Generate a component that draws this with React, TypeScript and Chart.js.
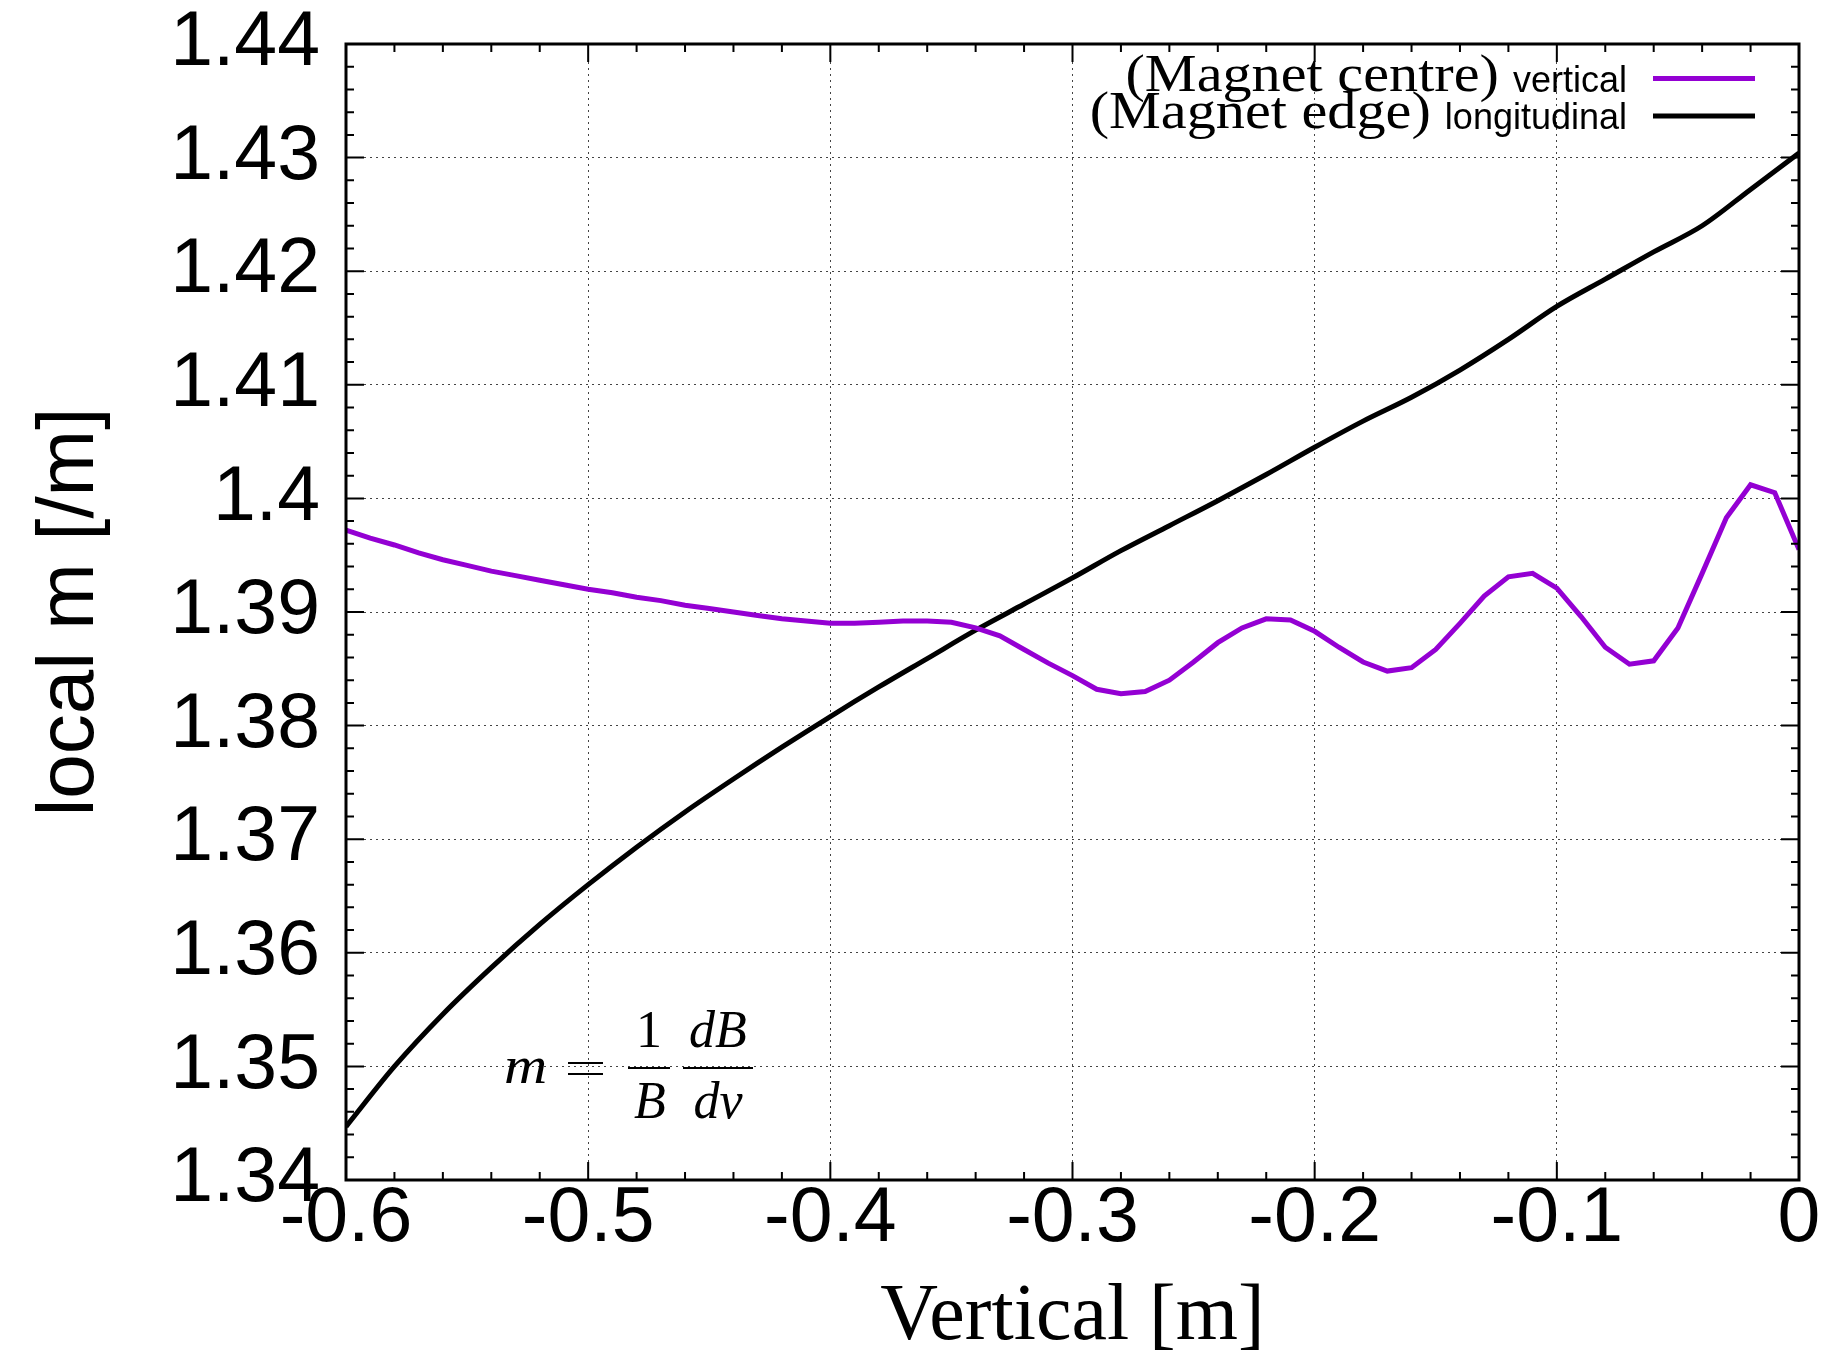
import React, { useEffect, useRef } from "react";
import Chart from "chart.js/auto";

// ---- data ----
const CENTRE_X = [
  -0.6, -0.59, -0.58, -0.57, -0.56, -0.55, -0.54, -0.53, -0.52, -0.51,
  -0.5, -0.49, -0.48, -0.47, -0.46, -0.45, -0.44, -0.43, -0.42, -0.41,
  -0.4, -0.39, -0.38, -0.37, -0.36, -0.35, -0.34, -0.33, -0.32, -0.31,
  -0.3, -0.29, -0.28, -0.27, -0.26, -0.25, -0.24, -0.23, -0.22, -0.21,
  -0.2, -0.19, -0.18, -0.17, -0.16, -0.15, -0.14, -0.13, -0.12, -0.11,
  -0.1, -0.09, -0.08, -0.07, -0.06, -0.05, -0.04, -0.03, -0.02, -0.01, 0.0,
];
const CENTRE_M = [
  1.3972, 1.3965, 1.3959, 1.3952, 1.3946, 1.3941, 1.3936, 1.3932, 1.3928, 1.3924,
  1.392, 1.3917, 1.3913, 1.391, 1.3906, 1.3903, 1.39, 1.3897, 1.3894, 1.3892,
  1.389, 1.389, 1.3891, 1.3892, 1.3892, 1.3891, 1.3886, 1.3879, 1.3867, 1.3855,
  1.3844, 1.3832, 1.3828, 1.383, 1.384, 1.3856, 1.3873, 1.3886, 1.3894, 1.3893,
  1.3883, 1.3869, 1.3856, 1.3848, 1.3851, 1.3867, 1.389, 1.3914, 1.3931, 1.3934,
  1.3921, 1.3896, 1.3869, 1.3854, 1.3857, 1.3886, 1.3934, 1.3983, 1.4012, 1.4005, 1.3955,
];
const EDGE_X = [
  -0.6, -0.58, -0.56, -0.54, -0.52, -0.5, -0.48, -0.46, -0.44, -0.42,
  -0.4, -0.38, -0.36, -0.34, -0.32, -0.3, -0.28, -0.26, -0.24, -0.22,
  -0.2, -0.18, -0.16, -0.14, -0.12, -0.1, -0.08, -0.06, -0.04, -0.02, 0.0,
];
const EDGE_M = [
  1.3447, 1.35, 1.3546, 1.3587, 1.3625, 1.366, 1.3693, 1.3724, 1.3753, 1.3781,
  1.3808, 1.3834, 1.3859, 1.3884, 1.3907, 1.393, 1.3954, 1.3976, 1.3998, 1.4021,
  1.4045, 1.4068, 1.4089, 1.4113, 1.414, 1.4169, 1.4193, 1.4217, 1.424, 1.4272, 1.4304,
];
const X_TICKS = [-0.6, -0.5, -0.4, -0.3, -0.2, -0.1, 0];
const Y_TICKS = [1.34, 1.35, 1.36, 1.37, 1.38, 1.39, 1.4, 1.41, 1.42, 1.43, 1.44];

const SERIES_SERIF = ["(Magnet centre)", "(Magnet edge)"];
const SERIES_SANS = ["vertical", "longitudinal"];
const SERIES_COLORS = ["#9400d3", "#000000"];

const W = 1838;
const H = 1358;

const frameAndTicks = {
  id: "frameAndTicks",
  afterDatasetsDraw(chart: any) {
    const { ctx, chartArea: a, scales } = chart;
    const x = scales.x;
    const y = scales.y;
    ctx.save();
    ctx.strokeStyle = "#000";
    ctx.lineWidth = 2;
    ctx.beginPath();
    for (let i = 0; i <= 30; i++) {
      const v = -0.6 + i * 0.02;
      const px = x.getPixelForValue(v);
      const len = i % 5 === 0 ? 18 : 8;
      ctx.moveTo(px, a.bottom);
      ctx.lineTo(px, a.bottom - len);
      ctx.moveTo(px, a.top);
      ctx.lineTo(px, a.top + len);
    }
    for (let i = 0; i <= 50; i++) {
      const v = 1.34 + i * 0.002;
      const py = y.getPixelForValue(v);
      const len = i % 5 === 0 ? 18 : 8;
      ctx.moveTo(a.left, py);
      ctx.lineTo(a.left + len, py);
      ctx.moveTo(a.right, py);
      ctx.lineTo(a.right - len, py);
    }
    ctx.stroke();
    ctx.lineWidth = 3;
    ctx.strokeRect(a.left, a.top, a.right - a.left, a.bottom - a.top);
    ctx.restore();
  },
  afterDraw(chart: any) {
    const { ctx, chartArea: a } = chart;
    ctx.save();
    // legend
    const sansFont = '36px "Liberation Sans", Arial, sans-serif';
    const serifFont = '52px "Liberation Serif", "Times New Roman", serif';
    const textRight = a.right - 172;
    const lineX0 = a.right - 146;
    const lineX1 = a.right - 44;
    const rows = [78.5, 116];
    for (let i = 0; i < 2; i++) {
      const ly = rows[i];
      ctx.font = sansFont;
      ctx.fillStyle = "#000";
      ctx.textAlign = "right";
      ctx.textBaseline = "alphabetic";
      ctx.fillText(SERIES_SANS[i], textRight, ly + 13);
      const sw = ctx.measureText(SERIES_SANS[i]).width;
      ctx.font = serifFont;
      const sx = textRight - sw - 14;
      ctx.save();
      ctx.translate(sx, ly + 12);
      ctx.scale(1.12, 1);
      ctx.fillText(SERIES_SERIF[i], 0, 0);
      ctx.restore();
      ctx.strokeStyle = chart.data.datasets[i].borderColor;
      ctx.lineWidth = 5;
      ctx.beginPath();
      ctx.moveTo(lineX0, ly);
      ctx.lineTo(lineX1, ly);
      ctx.stroke();
    }
    // formula  m = (1/B)(dB/dv)
    ctx.fillStyle = "#000";
    ctx.strokeStyle = "#000";
    ctx.textBaseline = "alphabetic";
    const it = 'italic 52px "Liberation Serif", "Times New Roman", serif';
    const rm = '52px "Liberation Serif", "Times New Roman", serif';
    ctx.font = it;
    ctx.textAlign = "left";
    ctx.save();
    ctx.translate(504, 1083);
    ctx.scale(1.15, 1);
    ctx.fillText("m", 0, 0);
    ctx.restore();
    ctx.lineWidth = 2;
    ctx.beginPath();
    ctx.moveTo(568, 1063);
    ctx.lineTo(603, 1063);
    ctx.moveTo(568, 1074);
    ctx.lineTo(603, 1074);
    ctx.moveTo(628, 1068);
    ctx.lineTo(670, 1068);
    ctx.moveTo(683, 1068);
    ctx.lineTo(753, 1068);
    ctx.stroke();
    ctx.textAlign = "center";
    ctx.font = rm;
    ctx.fillText("1", 649, 1047);
    ctx.font = it;
    ctx.fillText("B", 650, 1118);
    ctx.fillText("dB", 718, 1047);
    ctx.fillText("dv", 718, 1118);
    ctx.restore();
  },
};

export default function App() {
  const ref = useRef<HTMLCanvasElement | null>(null);
  useEffect(() => {
    if (!ref.current) return;
    const chart = new Chart(ref.current, {
      type: "line",
      data: {
        datasets: [
          {
            label: SERIES_SANS[0],
            data: CENTRE_X.map((x, i) => ({ x, y: CENTRE_M[i] })),
            borderColor: SERIES_COLORS[0],
            borderWidth: 5,
            pointRadius: 0,
            tension: 0,
            fill: false,
          },
          {
            label: SERIES_SANS[1],
            data: EDGE_X.map((x, i) => ({ x, y: EDGE_M[i] })),
            borderColor: SERIES_COLORS[1],
            borderWidth: 5,
            pointRadius: 0,
            cubicInterpolationMode: "monotone",
            fill: false,
          },
        ],
      },
      options: {
        responsive: false,
        animation: false,
        devicePixelRatio: 1,
        layout: { padding: { left: 0, right: 39, top: 44, bottom: 0 } },
        plugins: { legend: { display: false }, tooltip: { enabled: false } },
        scales: {
          x: {
            type: "linear",
            min: -0.6,
            max: 0,
            afterBuildTicks: (s: any) => {
              s.ticks = X_TICKS.map((v) => ({ value: v }));
            },
            afterFit: (s: any) => {
              s.height = 178;
            },
            grid: { color: "#444", lineWidth: 1, drawTicks: false },
            border: { display: false, dash: [2, 4] },
            ticks: {
              autoSkip: false,
              maxRotation: 0,
              padding: 5,
              color: "#000",
              font: { family: '"Liberation Sans", Arial, sans-serif', size: 77, lineHeight: 0.9 },
              callback: (v: any) => String(Number(Number(v).toFixed(1))),
            },
            title: {
              display: true,
              text: "Vertical [m]",
              color: "#000",
              padding: 0,
              font: { family: '"Liberation Serif", "Times New Roman", serif', size: 80, lineHeight: 1 },
            },
          },
          y: {
            type: "linear",
            min: 1.34,
            max: 1.44,
            afterBuildTicks: (s: any) => {
              s.ticks = Y_TICKS.map((v) => ({ value: v }));
            },
            afterFit: (s: any) => {
              s.width = 346;
              s.paddingTop = 0;
              s.paddingBottom = 0;
            },
            grid: { color: "#444", lineWidth: 1, drawTicks: false },
            border: { display: false, dash: [2, 4] },
            ticks: {
              autoSkip: false,
              padding: 26,
              color: "#000",
              font: { family: '"Liberation Sans", Arial, sans-serif', size: 77, lineHeight: 0.2 },
              callback: (v: any) => String(Number(Number(v).toFixed(2))),
            },
            title: {
              display: true,
              text: "local m [/m]",
              color: "#000",
              padding: { top: 31, bottom: 0 },
              font: { family: '"Liberation Sans", Arial, sans-serif', size: 80, lineHeight: 1 },
            },
          },
        },
      },
      plugins: [frameAndTicks],
    } as any);
    return () => chart.destroy();
  }, []);
  return (
    <div style={{ position: "fixed", left: 0, top: 0, width: W, height: H, background: "#fff" }}>
      <canvas ref={ref} width={W} height={H} style={{ display: "block" }} />
    </div>
  );
}
